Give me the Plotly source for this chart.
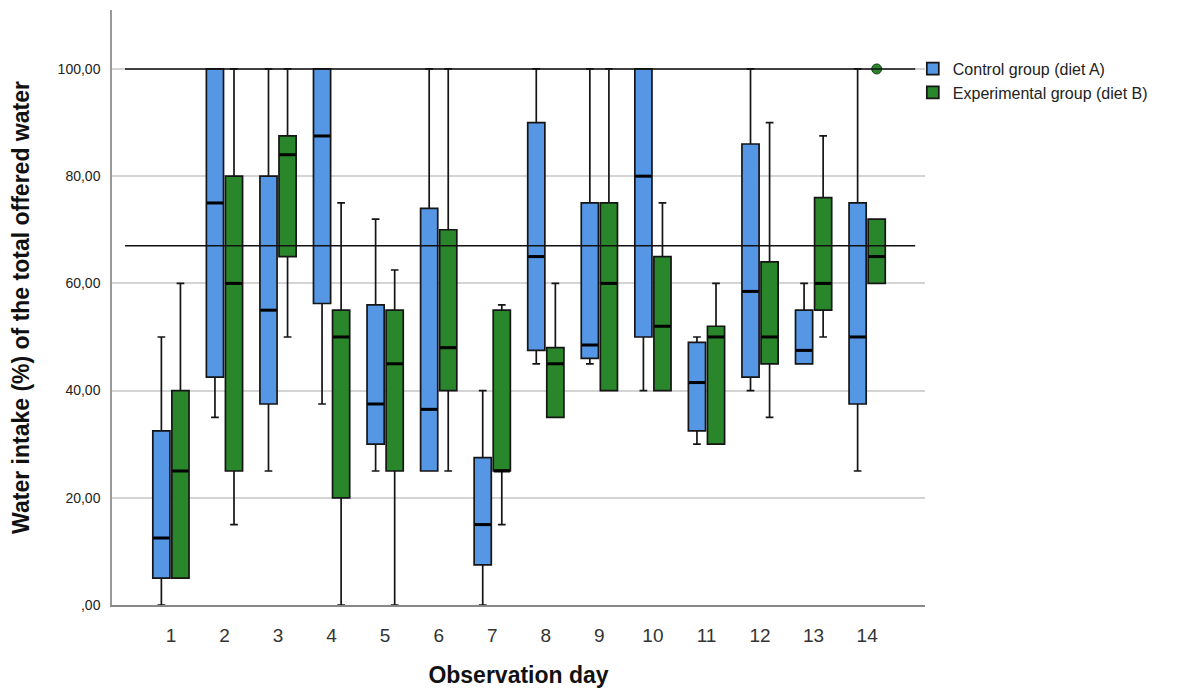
import plotly.graph_objects as go

# Observation days
days = list(range(1, 15))

# Control group (diet A): box statistics per day
ctrl_low = [0, 35, 25, 37.5, 25, 25, 0, 45, 45, 40, 30, 40, 45, 25]
ctrl_q1 = [5, 42.5, 37.5, 56.25, 30, 25, 7.5, 47.5, 46, 50, 32.5, 42.5, 45, 37.5]
ctrl_med = [12.5, 75, 55, 87.5, 37.5, 36.5, 15, 65, 48.5, 80, 41.5, 58.5, 47.5, 50]
ctrl_q3 = [32.5, 100, 80, 100, 56, 74, 27.5, 90, 75, 100, 49, 86, 55, 75]
ctrl_high = [50, 100, 100, 100, 72, 100, 40, 100, 100, 100, 50, 100, 60, 100]

# Experimental group (diet B): box statistics per day
exp_low = [5, 15, 50, 0, 0, 25, 15, 35, 40, 40, 30, 35, 50, 60]
exp_q1 = [5, 25, 65, 20, 25, 40, 25, 35, 40, 40, 30, 45, 55, 60]
exp_med = [25, 60, 84, 50, 45, 48, 25, 45, 60, 52, 50, 50, 60, 65]
exp_q3 = [40, 80, 87.5, 55, 55, 70, 55, 48, 75, 65, 52, 64, 76, 72]
exp_high = [60, 100, 100, 75, 62.5, 100, 56, 60, 100, 75, 60, 90, 87.5, 72]

# Outliers (day, value) for the experimental group
exp_outlier_days = [14]
exp_outlier_vals = [100]

# Horizontal reference lines
reference_lines = [100, 67]

# Axis ticks
ytick_vals = [0, 20, 40, 60, 80, 100]
ytick_labels = [",00", "20,00", "40,00", "60,00", "80,00", "100,00"]

BLUE = "#5596E5"
GREEN = "#2A862A"
OFFSET = 0.178
WIDTH = 0.32

fig = go.Figure()

groups = [
    ("Control group (diet A)", BLUE, -OFFSET, ctrl_low, ctrl_q1, ctrl_med, ctrl_q3, ctrl_high),
    ("Experimental group (diet B)", GREEN, OFFSET, exp_low, exp_q1, exp_med, exp_q3, exp_high),
]

for name, color, off, lo, q1, med, q3, hi in groups:
    xs = [d + off for d in days]
    fig.add_trace(go.Box(
        name=name,
        x=xs,
        q1=q1, median=med, q3=q3,
        lowerfence=lo, upperfence=hi,
        width=WIDTH,
        whiskerwidth=0.45,
        fillcolor=color,
        line=dict(color="#151515", width=1.7),
        boxpoints=False,
        hoverinfo="skip",
    ))
    # thick median bars
    fig.add_trace(go.Scatter(
        x=xs, y=med, mode="markers", showlegend=False, hoverinfo="skip",
        marker=dict(symbol="line-ew", size=11.5,
                    line=dict(color="black", width=3)),
    ))

fig.add_trace(go.Scatter(
    x=[d + OFFSET for d in exp_outlier_days], y=exp_outlier_vals,
    mode="markers", showlegend=False, hoverinfo="skip",
    marker=dict(symbol="circle", size=10, color=GREEN,
                line=dict(color="#1a3a1a", width=1)),
))

for v in reference_lines:
    fig.add_hline(y=v, x0=0.016, x1=0.988, line=dict(color="#111111", width=1.5),
                  layer="above")

fig.update_layout(
    width=1192, height=688,
    margin=dict(l=112, r=267, t=10, b=83),
    paper_bgcolor="white", plot_bgcolor="white",
    boxmode="overlay",
    font=dict(family="Liberation Sans, Arial, sans-serif", color="#222222"),
    legend=dict(x=0.985, y=0.93, xanchor="left", yanchor="top",
                font=dict(size=16, color="#222222"),
                tracegroupgap=0, itemwidth=30, bgcolor="rgba(0,0,0,0)"),
    showlegend=True,
)

fig.update_xaxes(
    range=[-0.1, 15.08],
    tickmode="array", tickvals=days, ticktext=[str(d) for d in days],
    tickfont=dict(size=19, color="#333333"),
    ticks="", ticklabelstandoff=12,
    showgrid=False, zeroline=False, automargin=False,
    showline=True, linecolor="#888888", linewidth=1.5,
    title=dict(text="<b>Observation day</b>", font=dict(size=23, color="#111111"),
               standoff=22),
)

fig.update_yaxes(
    range=[0, 111],
    tickmode="array", tickvals=ytick_vals, ticktext=ytick_labels,
    tickfont=dict(size=14, color="#222222"),
    ticks="", ticklabelstandoff=7,
    showgrid=True, gridcolor="#D4D4D4", gridwidth=1.5,
    zeroline=False, automargin=False,
    showline=True, linecolor="#999999", linewidth=1.5,
    title=dict(text="<b>Water intake (%) of the total offered water</b>",
               font=dict(size=23, color="#111111"), standoff=22),
)

fig.write_html("out.html")
